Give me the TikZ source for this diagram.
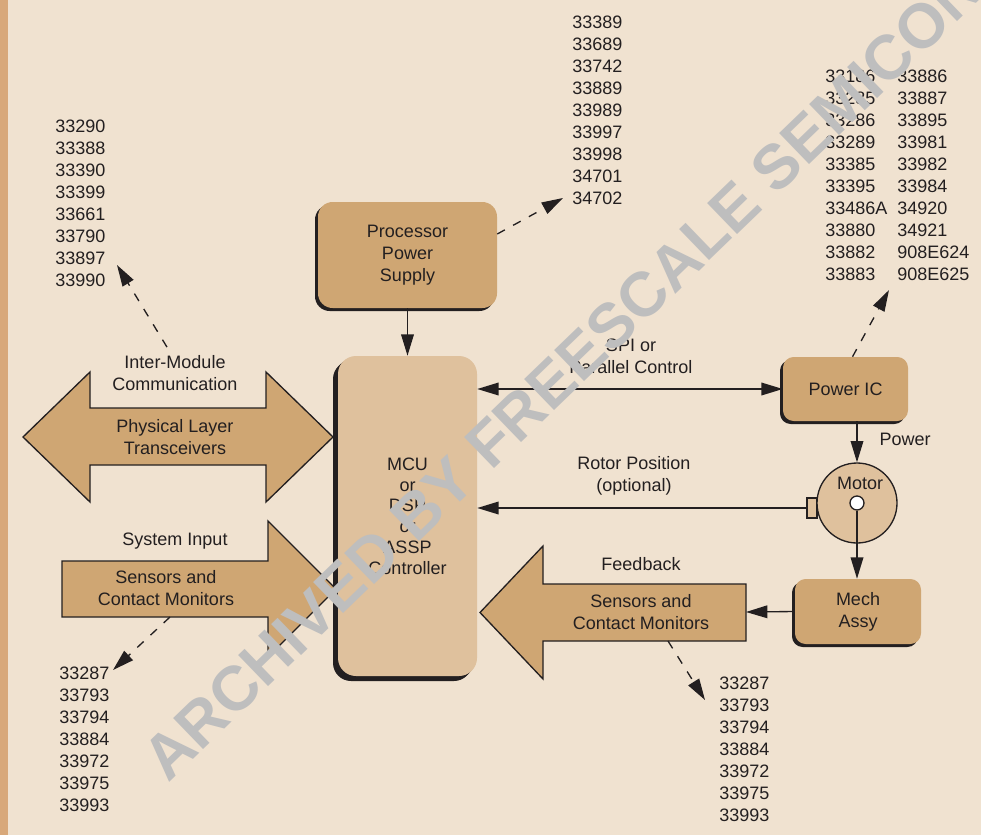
\documentclass[tikz,border=0pt]{standalone}
\usepackage{fontspec}
\setmainfont{Liberation Sans}
\usetikzlibrary{arrows.meta, shadows, calc}

\definecolor{paper}{RGB}{240,226,208}
\definecolor{edge}{RGB}{216,168,122}
\definecolor{boxfill}{RGB}{207,166,115}
\definecolor{mcufill}{RGB}{223,193,157}
\definecolor{ink}{RGB}{35,31,32}
\definecolor{wmgray}{RGB}{190,190,190}

\begin{document}
\begin{tikzpicture}[x=0.75pt, y=-0.75pt, font=\fontsize{13.5}{16.5}\selectfont,
  every node/.style={text=ink},
  block/.style={fill=boxfill, rounded corners=8pt, align=center, inner sep=0pt,
    drop shadow={shadow xshift=-2.25pt, shadow yshift=-2.25pt, fill=ink, opacity=1}},
  flow/.style={draw=ink, line width=1pt, fill=boxfill},
  txt/.style={align=center, inner sep=0pt},
  num/.style={anchor=west, inner sep=0pt},
  link/.style={draw=ink, line width=1pt, -{Triangle[length=16pt, width=9.5pt]}},
  bilink/.style={link, {Triangle[length=16pt, width=9.5pt]}-{Triangle[length=16pt, width=9.5pt]}},
  dlink/.style={link, dash pattern=on 6.5pt off 7pt}]

\useasboundingbox (0,0) rectangle (981,835);
\fill[paper] (0,0) rectangle (981,835);
\fill[edge] (0,0) rectangle (8,835);

% boxes
\node[block, rounded corners=11pt, minimum width=134.25pt, minimum height=79.5pt]
  (pps) at (407.5,255) {Processor\\Power\\Supply};
\node[block, minimum width=93.75pt, minimum height=48pt] (pic) at (845.5,389) {Power IC};
\node[block, minimum width=94.5pt, minimum height=48.75pt] (mech) at (858,611.5) {Mech\\Assy};

% big arrows
\draw[flow] (23,437) -- (90,372) -- (90,408) -- (266,408) -- (266,372) -- (333,437)
  -- (266,502) -- (266,465) -- (90,465) -- (90,502) -- cycle;
\draw[flow] (62,561) -- (268,561) -- (268,521) -- (336,589) -- (268,657) -- (268,617)
  -- (62,617) -- cycle;
\draw[flow] (746,584) -- (543,584) -- (543,546) -- (480,612.5) -- (543,679) -- (543,641)
  -- (746,641) -- cycle;
\coordinate (fbend) at (746,612);
\coordinate (sibot) at (170,617);
\coordinate (fbbot) at (668,641);

\node[block, fill=mcufill, rounded corners=13.5pt, minimum width=104.25pt, minimum height=240pt,
  drop shadow={shadow xshift=-3.75pt, shadow yshift=-3.75pt, fill=ink, opacity=1},
  font=\fontsize{13.5}{15.6}\selectfont]
  (mcu) at (407.5,516) {MCU\\or\\DSP\\or\\ASSP\\Controller};

% motor
\node[draw=ink, line width=1pt, fill=mcufill, minimum width=7.5pt, minimum height=15pt, inner sep=0pt]
  (sensor) at (812,508) {};
\node[draw=ink, line width=1pt, fill=mcufill, circle, minimum size=60pt, inner sep=0pt]
  (motor) at (857,503) {};
\node[draw=ink, line width=1pt, fill=white, circle, minimum size=10.5pt, inner sep=0pt]
  (hub) at (857,503) {};
\node[txt] (motortxt) at (860,483) {Motor};

% labels
\node[txt] (imc) at (175,373) {Inter-Module\\Communication};
\node[txt] (phy) at (175,437) {Physical Layer\\Transceivers};
\node[txt] (sysin) at (175,541) {System Input};
\node[txt] (sens) at (166,588) {Sensors and\\Contact Monitors};
\node[txt] (fb) at (641,564) {Feedback};
\node[txt] (fbsens) at (641,612) {Sensors and\\Contact Monitors};
\node[txt] (spi) at (631,356) {SPI or\\Parallel Control};
\node[txt] (rotor) at (634,476) {Rotor Position\\(optional)};
\node[txt] (pwr) at (905,439) {Power};

% connectors
\draw[link] (pps.south) -- (mcu.north);
\draw[bilink] (pic.west -| mcu.east) -- (pic.west);
\draw[link] (sensor.west) -- (sensor.west -| mcu.east);
\draw[link] (motor.north |- pic.south) -- (motor.north);
\draw[link] (hub.south) -- (hub.south |- mech.north);
\draw[link] (mech.west) -- (fbend);

% part numbers
\coordinate (imctip) at (117,265);
\coordinate (ppstip) at (563,198);
\coordinate (pictip) at (889,290);
\coordinate (sitip) at (113,670);
\coordinate (fbtip) at (705,700);
\draw[dlink] ($(imc.north)+(-8,-8)$) -- (imctip);
\draw[dlink] ([yshift=15.75pt]pps.east) -- (ppstip);
\draw[dlink] ([xshift=5.25pt]pic.north) -- (pictip);
\draw[dlink] (sibot) -- (sitip);
\draw[dlink] (fbbot) -- (fbtip);

\foreach \n [count=\i] in {33290,33388,33390,33399,33661,33790,33897,33990}
  \node[num] (imc-\i) at (55,{104+22*\i}) {\n};
\foreach \n [count=\i] in {33389,33689,33742,33889,33989,33997,33998,34701,34702}
  \node[num] (pps-\i) at (572,{22*\i}) {\n};
\foreach \n [count=\i] in {33186,33285,33286,33289,33385,33395,33486A,33880,33882,33883}
  \node[num] (pica-\i) at (825,{54+22*\i}) {\n};
\foreach \n [count=\i] in {33886,33887,33895,33981,33982,33984,34920,34921,908E624,908E625}
  \node[num] (picb-\i) at (897,{54+22*\i}) {\n};
\foreach \n [count=\i] in {33287,33793,33794,33884,33972,33975,33993}
  \node[num] (sin-\i) at (59,{651+22*\i}) {\n};
\foreach \n [count=\i] in {33287,33793,33794,33884,33972,33975,33993}
  \node[num] (fbn-\i) at (719,{661+22*\i}) {\n};

% archive stamp
\begin{scope}
\clip (0,0) rectangle (981,835);
\node[font=\fontsize{47}{47}\selectfont\bfseries, text=wmgray, rotate=44, anchor=base west, inner sep=0pt]
  (archive) at (168,784) {ARCHIVED BY FREESCALE SEMICONDUCTOR};
\end{scope}
\end{tikzpicture}
\end{document}
